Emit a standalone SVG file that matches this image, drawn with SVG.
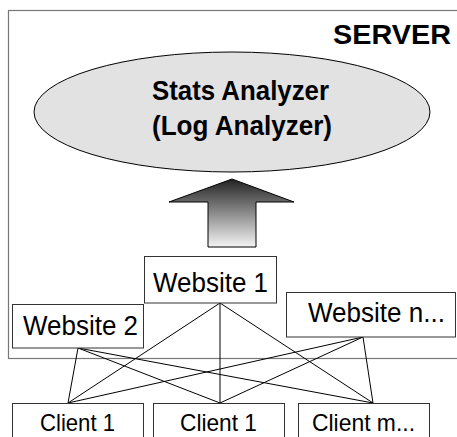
<svg xmlns="http://www.w3.org/2000/svg" width="457" height="437" viewBox="0 0 457 437">
<defs>
<linearGradient id="arrowGrad" x1="0" y1="0" x2="0" y2="1">
<stop offset="0" stop-color="#222222"/>
<stop offset="1" stop-color="#f4f4f4"/>
</linearGradient>
</defs>
<style>
.box{fill:#ffffff;stroke:#333333;stroke-width:1}
.lbl{font-family:"Liberation Sans",Arial,sans-serif;fill:#000000;text-anchor:middle}
.web{font-size:27px}
.cli{font-size:24px}
.bold{font-weight:bold}
.conn{stroke:#000000;stroke-width:1;fill:none}
</style>
<rect x="0" y="0" width="457" height="437" fill="#ffffff"/>
<g id="server">
<rect x="8.5" y="10.5" width="460" height="348" fill="none" stroke="#777777" stroke-width="1.2"/>
<text class="lbl bold" x="392" y="44" font-size="28" textLength="118" lengthAdjust="spacingAndGlyphs">SERVER</text>
</g>
<g id="stats-analyzer">
<ellipse cx="232" cy="112" rx="198" ry="60" fill="#e2e2e2" stroke="#000000" stroke-width="1"/>
<text class="lbl bold" x="240.5" y="100" font-size="27" textLength="177" lengthAdjust="spacingAndGlyphs">Stats Analyzer</text>
<text class="lbl bold" x="242" y="135" font-size="27" textLength="180" lengthAdjust="spacingAndGlyphs">(Log Analyzer)</text>
</g>
<g id="arrow">
<polygon points="232,179 294,202 256,202 256,247 208,247 208,202 169,202" fill="url(#arrowGrad)" stroke="#000000" stroke-width="1"/>
</g>
<g id="connectors">
<line class="conn" x1="220" y1="303" x2="68" y2="403"/>
<line class="conn" x1="220" y1="303" x2="220" y2="403"/>
<line class="conn" x1="220" y1="303" x2="373" y2="403"/>
<line class="conn" x1="78" y1="348" x2="68" y2="403"/>
<line class="conn" x1="78" y1="348" x2="220" y2="403"/>
<line class="conn" x1="78" y1="348" x2="373" y2="403"/>
<line class="conn" x1="363" y1="337" x2="68" y2="403"/>
<line class="conn" x1="363" y1="337" x2="220" y2="403"/>
<line class="conn" x1="363" y1="337" x2="373" y2="403"/>
</g>
<g id="website1">
<rect class="box" x="144.5" y="256.5" width="132" height="46.5"/>
<text class="lbl web" x="210.5" y="292" textLength="115" lengthAdjust="spacingAndGlyphs">Website 1</text>
</g>
<g id="website2">
<rect class="box" x="12.5" y="304.5" width="131" height="43.5"/>
<text class="lbl web" x="80.5" y="335" textLength="115" lengthAdjust="spacingAndGlyphs">Website 2</text>
</g>
<g id="websiten">
<rect class="box" x="286.5" y="292.5" width="169" height="44.5"/>
<text class="lbl web" x="376.5" y="322" textLength="137" lengthAdjust="spacingAndGlyphs">Website n...</text>
</g>
<g id="client1">
<rect class="box" x="12.5" y="403.5" width="131" height="40"/>
<text class="lbl cli" x="77.5" y="431" textLength="75" lengthAdjust="spacingAndGlyphs">Client 1</text>
</g>
<g id="client2">
<rect class="box" x="153.5" y="403.5" width="131" height="40"/>
<text class="lbl cli" x="218.5" y="431" textLength="77" lengthAdjust="spacingAndGlyphs">Client 1</text>
</g>
<g id="clientm">
<rect class="box" x="298.5" y="403.5" width="131" height="40"/>
<text class="lbl cli" x="363.5" y="431" textLength="103" lengthAdjust="spacingAndGlyphs">Client m...</text>
</g>
</svg>
